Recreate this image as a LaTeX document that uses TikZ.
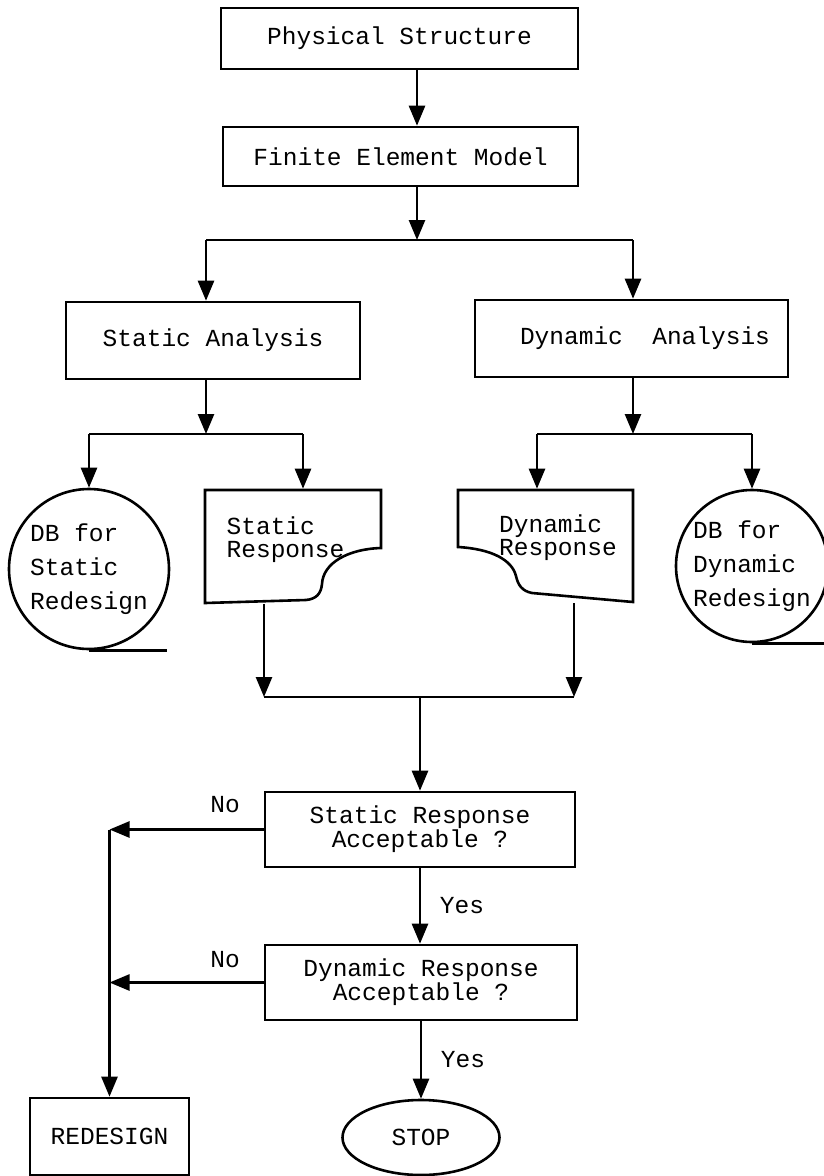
\documentclass[tikz,border=0pt]{standalone}
\usepackage{fontspec}
\newfontfamily\cour{Liberation Mono}
\usetikzlibrary{arrows.meta,shapes.geometric}
\begin{document}
\begin{tikzpicture}[x=1pt,y=-1pt,
  line width=2.6pt,
  arr/.style={-{Triangle[length=20pt 0,width=16pt 0]}},
  txt/.style={font=\cour\fontsize{24.5}{21}\selectfont},
  box/.style={draw, rectangle, inner sep=0pt, txt, align=center},
  lbl/.style={txt, inner sep=0pt},
  tape/.style={draw, circle, inner sep=0pt, align=left, font=\cour\fontsize{24.5}{34}\selectfont},
  doc/.style={rectangle, inner sep=0pt},
]
\useasboundingbox (0,0) rectangle (823,1176);

% boxes
\node[box, minimum width=357pt, minimum height=61pt] (ps) at (399.5,38.5) {Physical Structure};
\node[box, minimum width=355pt, minimum height=59pt] (fem) at (400.5,156.5) {Finite Element Model};
\node[box, minimum width=294pt, minimum height=77pt] (sa) at (213,340.5) {Static Analysis};
\node[box, minimum width=313pt, minimum height=77pt] (da) at (631.5,338.5) {\hspace*{27pt}Dynamic\ \ Analysis};

% tape storage
\node[tape, minimum size=160pt] (sdb) at (89,569) {DB for\\Static\\Redesign};
\draw (sdb.south) -- ++(78,0);
\node[tape, minimum size=152pt] (ddb) at (752,566) {DB for\\Dynamic\\Redesign};
\draw (ddb.south) -- ++(80,0);

% documents
\node[doc, minimum width=176pt, minimum height=113pt] (sresp) at (293,546.5) {};
\draw[line join=miter] (205,490) -- (381,490) -- (381,548)
  .. controls (348,549) and (323,563) .. (322,584)
  .. controls (321,594) and (316,599) .. (306,600) -- (205,603) -- cycle;
\node[lbl, align=left, font=\cour\fontsize{24.5}{23}\selectfont] (srespt) at (285.5,540) {Static\\Response};

\node[doc, minimum width=175pt, minimum height=112pt] (dresp) at (545.5,546) {};
\draw[line join=miter] (458,490) -- (633,490) -- (633,602) -- (532,593)
  .. controls (522,591) and (518,585) .. (516,576)
  .. controls (512,560) and (492,549) .. (458,547) -- cycle;
\node[lbl, align=left, font=\cour\fontsize{24.5}{23}\selectfont] (drespt) at (558,538) {Dynamic\\Response};

% decisions
\node[box, minimum width=310pt, minimum height=75pt] (sacc) at (420,829.5) {Static Response\\Acceptable ?};
\node[box, minimum width=312pt, minimum height=75pt] (dacc) at (421,982.5) {Dynamic Response\\Acceptable ?};
\node[box, minimum width=159pt, minimum height=77pt] (redesign) at (109.5,1136.5) {REDESIGN};
\node[draw, ellipse, inner sep=0pt, minimum width=157pt, minimum height=75pt, txt] (stop) at (421,1137.5) {STOP};

% labels
\node[lbl] (no1) at (225,805) {No};
\node[lbl] (no2) at (225,960) {No};
\node[lbl] (yes1) at (462,906) {Yes};
\node[lbl] (yes2) at (463,1060) {Yes};

% junction coordinates
\coordinate (j1) at (417,240);
\coordinate (j1l) at (206,240);
\coordinate (j1r) at (633,240);
\coordinate (j2) at (206,434);
\coordinate (j2l) at (89,434);
\coordinate (j2r) at (303,434);
\coordinate (j3) at (633,434);
\coordinate (j3l) at (537,434);
\coordinate (j3r) at (752,434);
\coordinate (k1) at (264,697);
\coordinate (k2) at (574,697);
\coordinate (k) at (420,697);

% connectors
\draw[arr] (ps.south -| j1) -- (fem.north -| j1);
\draw[arr] (fem.south -| j1) -- (j1);
\draw (j1l) -- (j1r);
\draw[arr] (j1l) -- (sa.north -| j1l);
\draw[arr] (j1r) -- (da.north -| j1r);

\draw[arr] (sa.south -| j2) -- (j2);
\draw (j2l) -- (j2r);
\draw[arr] (j2l) -- (sdb.north);
\draw[arr] (j2r) -- (sresp.north -| j2r);

\draw[arr] (da.south -| j3) -- (j3);
\draw (j3l) -- (j3r);
\draw[arr] (j3l) -- (dresp.north -| j3l);
\draw[arr] (j3r) -- (ddb.north);

\draw[arr] (sresp.south -| k1) -- (k1);
\draw[arr] (dresp.south -| k2) -- (k2);
\draw (k1) -- (k2);
\draw[arr] (k) -- (sacc.north -| k);

\draw[arr] (sacc.south -| k) -- (dacc.north -| k);
\draw[arr] (dacc.south -| stop.north) -- (stop.north);

\draw[arr] (sacc.west) -- (sacc.west -| redesign.north);
\draw[arr] (dacc.west) -- (dacc.west -| redesign.north);
\draw[arr] (sacc.west -| redesign.north) -- (redesign.north);
\end{tikzpicture}
\end{document}
